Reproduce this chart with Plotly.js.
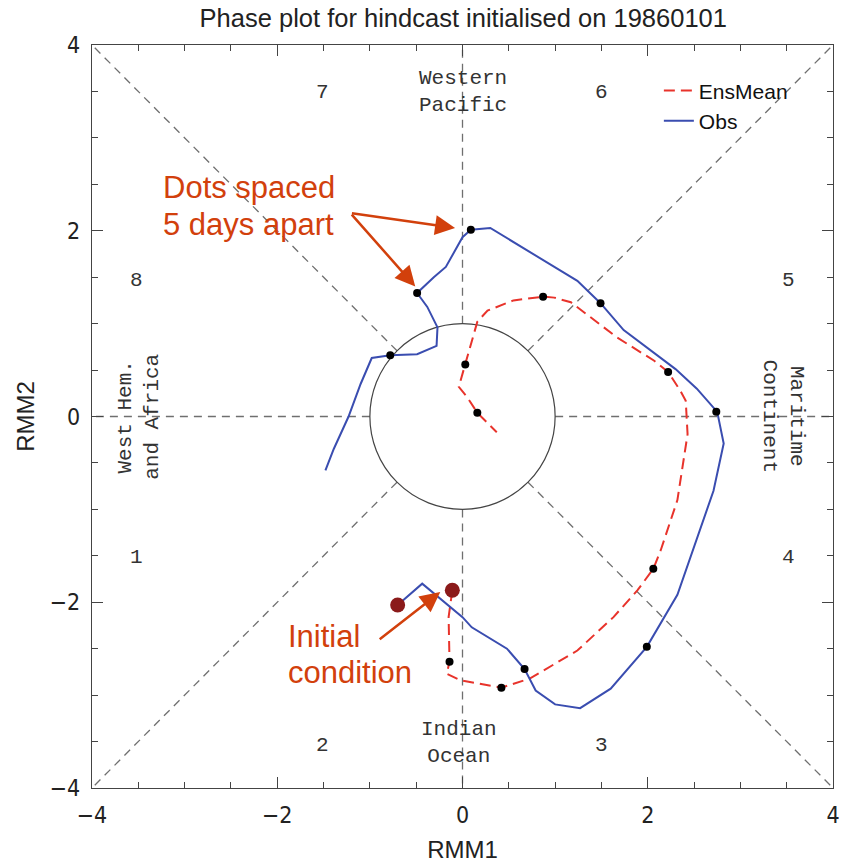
<!DOCTYPE html>
<html>
<head>
<meta charset="utf-8">
<script src="https://cdn.plot.ly/plotly-3.0.1.min.js"></script>
<style>html,body{margin:0;padding:0;background:#fff;}#chart{width:850px;height:865px;}</style>
</head>
<body>
<div id="chart"></div>
<script>
// Observed trajectory (RMM1, RMM2)
const obsX = [-0.70,-0.435,0.0,0.10,0.48,0.67,0.79,1.00,1.27,1.60,1.99,2.32,2.71,2.82,2.75,2.53,2.30,1.74,1.49,1.24,0.30,0.14,0.09,0.0,-0.18,-0.31,-0.49,-0.38,-0.27,-0.28,-0.49,-0.78,-0.98,-1.10,-1.23,-1.39,-1.48];
const obsY = [-2.03,-1.80,-2.16,-2.27,-2.50,-2.72,-2.95,-3.10,-3.14,-2.93,-2.48,-1.92,-0.80,-0.29,0.05,0.30,0.51,0.93,1.22,1.46,2.03,2.02,2.01,1.93,1.61,1.50,1.33,1.18,0.96,0.76,0.67,0.66,0.63,0.35,0.0,-0.35,-0.58];
// Ensemble mean forecast
const ensX = [-0.11,-0.15,-0.14,-0.17,-0.02,0.42,0.73,1.24,1.63,1.89,2.06,2.14,2.32,2.43,2.41,2.35,2.22,2.07,1.67,1.17,0.99,0.87,0.55,0.27,0.16,0.09,0.03,-0.04,0.05,0.16,0.37];
const ensY = [-1.87,-2.16,-2.64,-2.77,-2.84,-2.92,-2.82,-2.52,-2.16,-1.87,-1.64,-1.44,-0.90,-0.19,0.17,0.28,0.48,0.60,0.85,1.23,1.28,1.29,1.25,1.14,1.02,0.78,0.56,0.32,0.21,0.04,-0.17];
// 5-day dots
const obsDotX = [0.67,1.99,2.74,1.49,0.09,-0.49,-0.78];
const obsDotY = [-2.72,-2.48,0.05,1.22,2.01,1.33,0.66];
const ensDotX = [-0.14,0.42,2.06,2.22,0.87,0.03,0.16];
const ensDotY = [-2.64,-2.92,-1.64,0.48,1.29,0.56,0.04];
// Initial conditions
const startX = [-0.70,-0.11];
const startY = [-2.03,-1.87];
// Phase numbers
const phaseLabels = ['1','2','3','4','5','6','7','8'];
const phaseX = [-3.52,-1.51,1.50,3.52,3.52,1.50,-1.51,-3.52];
const phaseY = [-1.52,-3.54,-3.54,-1.52,1.46,3.49,3.49,1.46];
// Region names
const regionNames = ['Western<br>Pacific','Indian<br>Ocean','West Hem.<br>and Africa','Maritime<br>Continent'];
const regionX = [0.0,-0.04,-3.50,3.47];
const regionY = [3.49,-3.52,0.0,0.0];
const regionAngle = [0,0,-90,90];
// Callout texts
const calloutText = ['Dots spaced','5 days apart','Initial','condition'];
const calloutX = [-3.26,-3.26,-1.91,-1.91];
const calloutY = [2.465,2.067,-2.368,-2.756];
// Tick values
const tickVals = [-4,-2,0,2,4];
const tickText = ['\u22124','\u22122','0','2','4'];

const annColor = '#D2400C';
const monoFont = '"Liberation Mono", "DejaVu Sans Mono", monospace';
const sansFont = 'Arial, "Liberation Sans", sans-serif';
const tickFontFam = '"Liberation Sans Narrow", "DejaVu Sans Condensed", "Liberation Sans", sans-serif';

const traces = [
  {x: ensX, y: ensY, mode:'lines', name:'EnsMean', line:{color:'#E8332B', width:2, dash:'11px,6px'}, hoverinfo:'skip'},
  {x: obsX, y: obsY, mode:'lines', name:'Obs', line:{color:'#3A4DB0', width:2}, hoverinfo:'skip'},
  {x: obsDotX, y: obsDotY, mode:'markers', showlegend:false, marker:{color:'#000', size:8}, hoverinfo:'skip'},
  {x: ensDotX, y: ensDotY, mode:'markers', showlegend:false, marker:{color:'#000', size:8}, hoverinfo:'skip'},
  {x: startX, y: startY, mode:'markers', showlegend:false, marker:{color:'#8B1A1A', size:15}, hoverinfo:'skip'}
];

// reference guide lines (phase boundaries)
const dashLine = {color:'#6f6f6f', width:1.3, dash:'8px,6px'};
const r = 1, R = 4;
const dirs = [[1,0],[-1,0],[0,1],[0,-1],[1,1],[1,-1],[-1,1],[-1,-1]];
const shapes = dirs.map(d => {
  const n = Math.hypot(d[0], d[1]);
  return {type:'line', layer:'below', xref:'x', yref:'y',
    x0: d[0]/n*r, y0: d[1]/n*r, x1: d[0]*R, y1: d[1]*R, line: dashLine};
});
shapes.push({type:'circle', layer:'below', xref:'x', yref:'y', x0:-1, y0:-1, x1:1, y1:1, line:{color:'#444', width:1.2}});

const annotations = [];
phaseLabels.forEach((t,i) => annotations.push({x:phaseX[i], y:phaseY[i], text:t, showarrow:false, font:{family:monoFont, size:21, color:'#333'}}));
regionNames.forEach((t,i) => annotations.push({x:regionX[i], y:regionY[i], text:t, showarrow:false, textangle:regionAngle[i], font:{family:monoFont, size:21, color:'#333'}}));
calloutText.forEach((t,i) => annotations.push({x:calloutX[i], y:calloutY[i], xanchor:'left', yanchor:'middle', align:'left', text:t, showarrow:false, font:{family:sansFont, size:31, color:annColor}}));
const arrowBase = {text:'', showarrow:true, axref:'x', ayref:'y', arrowhead:2, arrowsize:1.6, arrowwidth:2.5, arrowcolor:annColor};
annotations.push(Object.assign({}, arrowBase, {x:-0.08, y:2.03, ax:-1.21, ay:2.19}));
annotations.push(Object.assign({}, arrowBase, {x:-0.51, y:1.40, ax:-1.21, ay:2.19}));
annotations.push(Object.assign({}, arrowBase, {x:-0.24, y:-1.89, ax:-0.91, ay:-2.41}));

const axisCommon = {
  range:[-4,4], showgrid:false, zeroline:false, showline:true, linecolor:'#444', linewidth:1.2,
  mirror:'ticks', ticks:'inside', ticklen:11, tickwidth:1.2, tickcolor:'#444',
  tickvals:tickVals, ticktext:tickText,
  tickfont:{family:tickFontFam, size:23, color:'#222'},
  minor:{dtick:0.5, ticks:'inside', ticklen:6, tickwidth:1, tickcolor:'#444', showgrid:false},
  fixedrange:true
};

const layout = {
  width:850, height:865,
  margin:{l:92, r:17, t:45, b:77},
  paper_bgcolor:'#fff', plot_bgcolor:'#fff',
  title:{text:'Phase plot for hindcast initialised on 19860101', x:0.545, xanchor:'center', y:0.979, yanchor:'middle',
    font:{family:sansFont, size:25.5, color:'#222'}},
  xaxis:Object.assign({}, axisCommon, {ticklabelstandoff:6, title:{text:'RMM1', standoff:14, font:{family:sansFont, size:24, color:'#222'}}}),
  yaxis:Object.assign({}, axisCommon, {ticklabelstandoff:6, title:{text:'RMM2', standoff:8, font:{family:sansFont, size:24, color:'#222'}}}),
  showlegend:true,
  legend:{x:0.765, y:0.966, xanchor:'left', yanchor:'top', bgcolor:'rgba(0,0,0,0)', borderwidth:0,
    font:{family:sansFont, size:21, color:'#111'}, tracegroupgap:0},
  shapes:shapes,
  annotations:annotations
};

Plotly.newPlot('chart', traces, layout, {displayModeBar:false, staticPlot:true});
</script>
</body>
</html>
